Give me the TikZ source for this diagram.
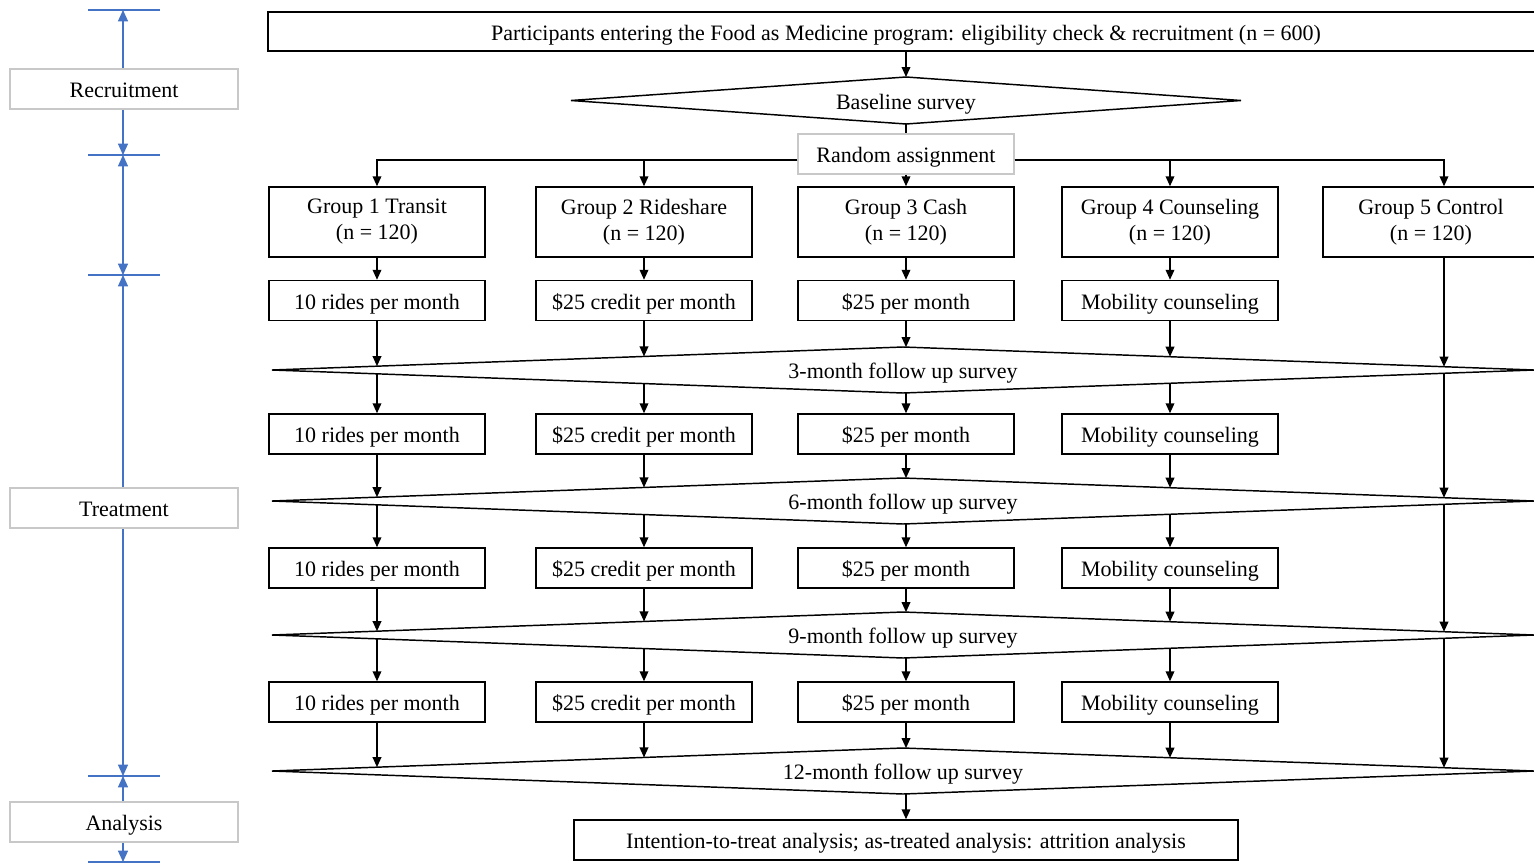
\documentclass[tikz,border=0pt]{standalone}
\usepackage{fontspec}
\setmainfont{Liberation Serif}
\usetikzlibrary{arrows.meta,shapes.geometric,intersections,calc}
\definecolor{tlblue}{HTML}{4472C4}
\definecolor{lgray}{HTML}{C8C8C8}
\newcommand\intoD[2]{%
  \path[name path global=vv] (#1.south) -- ++(0,300);
  \path[name intersections={of=vv and p#2, sort by=vv}] (intersection-1) coordinate (ia);
  \draw[arr] (#1.south) -- (ia);}
\newcommand\fromD[2]{%
  \path[name path global=vv] (#2.north) -- ++(0,-300);
  \path[name intersections={of=vv and p#1, sort by=vv}] (intersection-1) coordinate (ib);
  \draw[arr] (ib) -- (#2.north);}
\newcommand\DtoD[3]{%
  \path[name path global=vv] (#1 |- #2.north) -- (#1 |- #3.south);
  \path[name intersections={of=vv and p#2, sort by=vv}] (intersection-2) coordinate (ja);
  \path[name intersections={of=vv and p#3, sort by=vv}] (intersection-1) coordinate (jb);
  \draw[arr] (ja) -- (jb);}
\begin{document}
\begin{tikzpicture}[x=0.75pt,y=-0.75pt,
  font=\fontsize{16.5}{19.5}\selectfont,
  sl/.style={text height=16.5pt,text depth=3.5pt},
  box/.style={draw,line width=1.1pt,fill=white,minimum width=162pt,minimum height=30pt,inner sep=0pt,align=center},
  sbox/.style={box,sl},
  gbox/.style={box,minimum height=52.5pt},
  gbx/.style={draw=lgray,line width=0.8pt,fill=white,minimum height=30pt,inner sep=0pt,sl},
  dia/.style={draw,diamond,line width=1.1pt,inner sep=0pt,outer sep=0pt,sl},
  arr/.style={line width=1.1pt,-{Triangle[width=6.5pt,length=7.5pt]}},
  tick/.style={draw=tlblue,line width=0.8pt},
  tlarr/.style={draw=tlblue,line width=0.8pt,{Triangle[width=7.5pt,length=8.5pt]}-{Triangle[width=7.5pt,length=8.5pt]}}]
\useasboundingbox (0,0) rectangle (1534,864);
\clip (0,0) rectangle (1534,864);

% timeline
\foreach \i/\y in {0/10,1/155,2/275,3/776,4/862}{
  \coordinate (t\i) at (123,\y);
  \draw[tick] ($(t\i)+(-35,0)$) -- ($(t\i)+(37,0)$);
}
\draw[tlarr] (t0) -- (t1);
\draw[tlarr] (t1) -- (t2);
\draw[tlarr] (t2) -- (t3);
\draw[tlarr] (t3) -- (t4);
\node[gbx,minimum width=171pt] (lrec) at (124,89) {Recruitment};
\node[gbx,minimum width=171pt] (ltre) at (124,508) {Treatment};
\node[gbx,minimum width=171pt] (lana) at (124,822) {Analysis};

% top
\node[sbox,minimum width=957pt,minimum height=29.25pt] (top) at (906,31.5)
  {Participants entering the Food as Medicine program: eligibility check \& recruitment (n = 600)};
\node[dia,aspect=14.3,minimum width=502.5pt,minimum height=35.25pt] (base) at (906,100.5) {Baseline survey};
\node[gbx,minimum width=162pt] (ra) at (906,154) {Random assignment};
\draw[arr] (top.south) -- (base.north);
\draw[line width=1.1pt] (base.south) -- (ra.north);

% groups
\node[gbox] (g1) at (377,222) {Group 1 Transit\\(n = 120)};
\node[gbox] (g2) at (644,222) {Group 2 Rideshare\\(n = 120)};
\node[gbox] (g3) at (906,222) {Group 3 Cash\\(n = 120)};
\node[gbox] (g4) at (1170,222) {Group 4 Counseling\\(n = 120)};
\node[gbox] (g5) at (1431,222) {Group 5 Control\\(n = 120)};
\coordinate (c5) at (1444,0);
\draw[arr] ($(ra.west)+(0,6)$) -| (g1.north);
\draw[arr] ($(ra.west)+(0,6)$) -| (g2.north);
\draw[arr] ($(ra.east)+(0,6)$) -| (g4.north);
\draw[arr] ($(ra.east)+(0,6)$) -| (g5.north -| c5);
\draw[arr] (ra.south) -- (g3.north);

% diamonds
\foreach \n/\y/\t in {d3/370/3-month follow up survey, d6/501/6-month follow up survey, d9/635/9-month follow up survey, d12/771/12-month follow up survey}{
  \node[dia,aspect=27.4,minimum width=946.5pt,minimum height=34.5pt] (\n) at (903,\y) {\t};
  \path[name path global=p\n] (\n.west) -- (\n.north) -- (\n.east) -- (\n.south) -- cycle;
}

% treatment boxes
\foreach \k/\x/\t in {1/377/10 rides per month, 2/644/\$25 credit per month, 3/906/\$25 per month, 4/1170/Mobility counseling}{
  \foreach \r/\y in {1/300.5,2/434,3/568,4/702}{
    \node[sbox] (r\r-\k) at (\x,\y) {\t};
  }
}

\foreach \k in {1,...,4}{
  \draw[arr] (g\k.south) -- (r1-\k.north);
  \intoD{r1-\k}{d3}
  \fromD{d3}{r2-\k}
  \intoD{r2-\k}{d6}
  \fromD{d6}{r3-\k}
  \intoD{r3-\k}{d9}
  \fromD{d9}{r4-\k}
  \intoD{r4-\k}{d12}
}

% control column
\coordinate (g5b) at (g5.south -| c5);
\path[name path global=vv] (g5b) -- ++(0,300);
\path[name intersections={of=vv and pd3, sort by=vv}] (intersection-1) coordinate (c5a);
\draw[arr] (g5b) -- (c5a);
\DtoD{c5}{d3}{d6}
\DtoD{c5}{d6}{d9}
\DtoD{c5}{d9}{d12}

% final
\node[sbox,minimum width=498pt] (fin) at (906,840) {Intention-to-treat analysis; as-treated analysis: attrition analysis};
\fromD{d12}{fin}
\end{tikzpicture}
\end{document}
